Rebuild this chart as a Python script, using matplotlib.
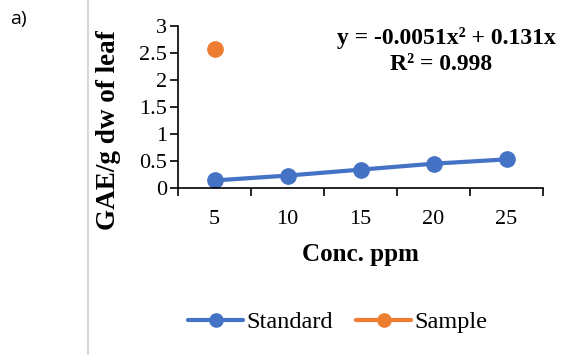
import matplotlib.pyplot as plt
import numpy as np

conc = [5, 10, 15, 20, 25]
standard = [0.14, 0.23, 0.34, 0.45, 0.53]
sample_conc = [5]
sample = [2.57]
yticks = [0, 0.5, 1, 1.5, 2, 2.5, 3]
ytick_labels = ['0', '0.5', '1', '1.5', '2', '2.5', '3']

serif = 'Liberation Serif'
blue = '#4472c4'
orange = '#ed7d31'

fig = plt.figure(figsize=(5.68, 3.55), dpi=100)
ax = fig.add_axes([178/568, 1 - 188/355, (543 - 178)/568, (188 - 26)/355])

# category axis: positions 0..4
xpos = np.arange(len(conc))
ax.plot(xpos, standard, color=blue, lw=3, marker='o', ms=11, label='Standard',
        solid_capstyle='round')
ax.plot(xpos[:len(sample)], sample, color=orange, lw=3, marker='o', ms=11, label='Sample',
        solid_capstyle='round')

ax.set_xlim(-0.5, len(conc) - 0.5)
ax.set_ylim(0, 3)
ax.set_yticks(yticks)
ax.set_yticklabels(ytick_labels, fontfamily=serif, fontsize=16)
ax.set_xticks(np.arange(-0.5, len(conc)), minor=False)
ax.set_xticklabels([])
ax.set_xticks(xpos, minor=True)
ax.set_xticklabels([str(c) for c in conc], minor=True, fontfamily=serif, fontsize=16)
ax.tick_params(axis='x', which='minor', length=0, pad=16)
ax.tick_params(axis='x', which='major', length=6, width=1.2, direction='out')
ax.tick_params(axis='y', length=6, width=1.2, direction='out', pad=2)
for s in ['top', 'right']:
    ax.spines[s].set_visible(False)
for s in ['left', 'bottom']:
    ax.spines[s].set_linewidth(1.2)

ax.set_xlabel('Conc. ppm', fontfamily=serif, fontsize=18, fontweight='bold', labelpad=10)
ax.set_ylabel('GAE/g dw of leaf', fontfamily=serif, fontsize=19.5, fontweight='bold', va='center')
ax.yaxis.set_label_coords(-0.19, (188 - 130) / 162)

fig.text(446/568, 1 - 38/355, 'y = -0.0051x² + 0.131x', fontfamily=serif, fontsize=17,
         fontweight='bold', ha='center', va='center')
fig.text(441/568, 1 - 64/355, 'R² = 0.998', fontfamily=serif, fontsize=17,
         fontweight='bold', ha='center', va='center')

fig.text(10/568, 1 - 19/355, 'a)', fontfamily='Open Sans', fontsize=14, ha='left', va='center')
fig.add_artist(plt.Line2D([88/568, 88/568], [0, 1], color='#d9d9d9', lw=1.5))

leg = fig.legend(loc='center', bbox_to_anchor=(338/568, 1 - 322/355), ncol=2, frameon=False,
                 prop={'family': serif, 'size': 17.5}, handlelength=2.26, columnspacing=0.95,
                 handletextpad=0.15)
for h in leg.legend_handles:
    h.set_markersize(9.5)

fig.savefig('out.png', dpi=100)
